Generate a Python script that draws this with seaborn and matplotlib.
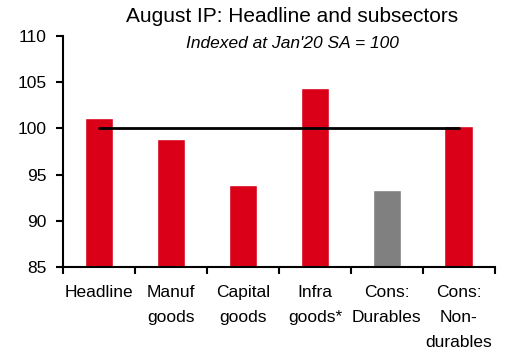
import matplotlib
matplotlib.use("Agg")
import matplotlib.pyplot as plt
import seaborn as sns
import pandas as pd
from matplotlib.ticker import FixedLocator

categories = ["Headline", "Manuf\ngoods", "Capital\ngoods", "Infra\ngoods*", "Cons:\nDurables", "Cons:\nNon-\ndurables"]
values = [101.1, 98.8, 93.9, 104.4, 93.3, 100.3]
groups = ["red", "red", "red", "red", "grey", "red"]
palette = {"red": "#DA0017", "grey": "#808080"}
baseline = 100

sns.set_style("white", {"text.color": "black", "xtick.color": "black", "ytick.color": "black",
                        "axes.labelcolor": "black", "axes.edgecolor": "black"})
plt.rcParams["font.family"] = ["Liberation Sans", "DejaVu Sans"]

df = pd.DataFrame({"cat": categories, "val": values, "grp": groups})
n = len(categories)

fig = plt.figure(figsize=(5.06, 3.56), dpi=100)
ax = fig.add_axes([0.1245, 0.25, 0.8535, 0.649])
sns.barplot(data=df, x="cat", y="val", hue="grp", palette=palette, dodge=False,
            width=0.4, legend=False, ax=ax, saturation=1, order=categories, zorder=2)
ax.plot([0, n - 1], [baseline, baseline], color="black", lw=2, zorder=3)

ax.set_xlim(-0.5, n - 0.5)
ax.set_ylim(85, 110)
ax.set_yticks([85, 90, 95, 100, 105, 110])
ax.set_xticks(range(n))
ax.set_xticklabels(categories, fontsize=12.5, linespacing=1.85, color="black")
ax.xaxis.set_minor_locator(FixedLocator([i - 0.5 for i in range(n + 1)]))
ax.tick_params(axis="x", which="major", length=0, pad=13)
ax.tick_params(axis="x", which="minor", length=5, width=1.5, direction="out", bottom=True, color="black")
ax.tick_params(axis="y", length=5, width=1.5, direction="out", left=True, labelsize=12.5, pad=7,
               color="black", labelcolor="black")
for s in ["top", "right"]:
    ax.spines[s].set_visible(False)
for s in ["left", "bottom"]:
    ax.spines[s].set_linewidth(1.5)
    ax.spines[s].set_color("black")
ax.set_xlabel("")
ax.set_ylabel("")
ax.grid(False)

fig.text(0.577, 0.953, "August IP: Headline and subsectors", ha="center", va="center", fontsize=15, color="black")
fig.text(0.577, 0.879, "Indexed at Jan'20 SA = 100", ha="center", va="center", fontsize=12.5,
         style="italic", color="black")

fig.savefig("out.png", dpi=100)
